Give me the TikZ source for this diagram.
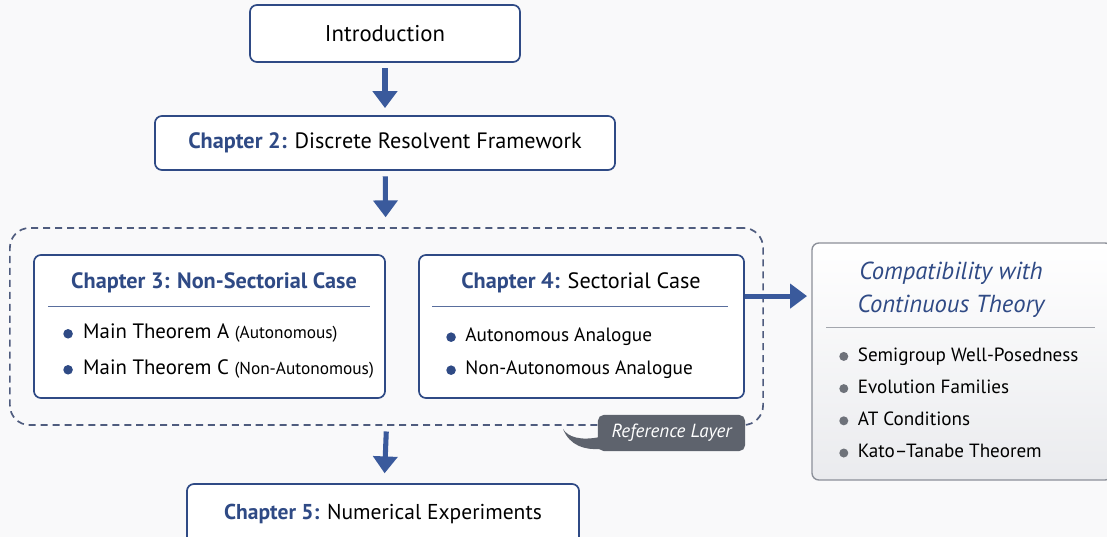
\documentclass[tikz,border=0pt]{standalone}
\usepackage{fontspec}
\setmainfont{PT Sans}
\usetikzlibrary{arrows.meta,positioning}
\definecolor{chblue}{HTML}{2F4A85}
\definecolor{arrblue}{HTML}{3A5A9C}
\definecolor{frameblue}{HTML}{4F5C7E}
\definecolor{compgray}{HTML}{8C9099}
\definecolor{compbot}{HTML}{EAEBEE}
\definecolor{taggray}{HTML}{5E636D}
\definecolor{bggray}{HTML}{F9F9FA}
\definecolor{dotgray}{HTML}{6E727A}
\tikzset{
  chbox/.style={draw=chblue, line width=1.2pt, rounded corners=5pt, fill=white, inner sep=0pt},
  flowarr/.style={draw=arrblue, line width=3.6pt, -{Triangle[width=17pt,length=12pt]}},
  boxrule/.style={draw=chblue!80, line width=0.6pt},
  item/.style={anchor=base west, inner sep=0pt, font=\fontsize{14.8}{17}\selectfont},
}
\newcommand{\chap}[1]{\textcolor{chblue}{\bfseries #1}}
\newcommand{\bluedot}{\tikz[baseline=0pt]\fill[chblue] (0pt,0.5ex) circle (3.4pt);\hspace{0.5em}}
\newcommand{\graydot}{\tikz[baseline=0pt]\fill[dotgray] (0pt,0.5ex) circle (3.2pt);\hspace{0.5em}}
\newcommand{\paren}[1]{{\fontsize{12.3}{14}\selectfont(#1)}}
\begin{document}
\begin{tikzpicture}[x=0.025cm,y=-0.025cm, font=\fontsize{15.8}{19}\selectfont]
		\fill[bggray] (0,0) rectangle (1107,537);
		\useasboundingbox (0,0) rectangle (1107,537);
		% main column
		\node[chbox, minimum width=6.75cm, minimum height=1.425cm, font=\fontsize{16.2}{19}\selectfont] (intro) at (385,33.5) {Introduction};
		\node[chbox, minimum width=11.5cm, minimum height=1.35cm] (ch2) at (385,143) {\chap{Chapter 2:} Discrete Resolvent Framework};
		\node[draw=frameblue, line width=1.2pt, dash pattern=on 5pt off 3.5pt, rounded corners=14pt,
			minimum width=18.825cm, minimum height=4.925cm, inner sep=0pt] (group) at (386.5,326.5) {};
		\node[chbox, minimum width=8.775cm, minimum height=3.575cm] (ch3) at (209.5,326.5) {};
		\node[chbox, minimum width=8.125cm, minimum height=3.575cm] (ch4) at (581.5,326.5) {};
		\node[chbox, minimum width=9.8cm, minimum height=1.5cm, font=\fontsize{15.3}{18}\selectfont] (ch5) at (383,514) {\chap{Chapter 5:} Numerical Experiments};
		% chapter 3
		\node (t3) at (214,283) {\chap{Chapter 3: Non-Sectorial Case}};
		\draw[boxrule] (48,306) -- (370,306);
		\node[item] (a3) at (63,339) {\bluedot Main Theorem A \paren{Autonomous}};
		\node[item] (c3) at (63,375) {\bluedot Main Theorem C \paren{Non-Autonomous}};
		% chapter 4
		\node (t4) at (581,283) {\chap{Chapter 4:} Sectorial Case};
		\draw[boxrule] (432,306) -- (728,306);
		\node[item, font=\fontsize{13.7}{16}\selectfont] (a4) at (446,342) {\bluedot Autonomous Analogue};
		\node[item, font=\fontsize{13.7}{16}\selectfont] (n4) at (446,375) {\bluedot Non-Autonomous Analogue};
		% continuous theory
		\node[draw=compgray, line width=1pt, rounded corners=5pt, top color=white, bottom color=compbot,
			minimum width=7.5cm, minimum height=5.925cm, inner sep=0pt] (compat) at (962,361.5) {};
		\node[align=center, text=chblue, font=\fontsize{17.5}{23.5}\selectfont\itshape] (ct) at (951,290)
			{Compatibility with\\Continuous Theory};
		\draw[draw=compgray!80, line width=0.6pt] (826,327) -- (1095,327);
		\foreach \txt [count=\i] in {Semigroup Well-Posedness, Evolution Families, AT Conditions, Kato--Tanabe Theorem}
			\node[item, font=\fontsize{13.6}{15}\selectfont] (c\i) at (839,329+32.2*\i) {\graydot \txt};
		% reference layer tag
		\node[fill=taggray, rounded corners=4pt, text=white, font=\fontsize{13.5}{15}\selectfont\itshape,
			minimum width=3.675cm, minimum height=0.9cm, inner sep=0pt] (tag) at (671.5,433) {Reference Layer};
		\fill[taggray] (600,437) .. controls (580,441) and (568,437) .. (563,429)
			.. controls (570,446) and (585,450) .. (600,449) -- cycle;
		% arrows
		\draw[flowarr, shorten <=4pt, shorten >=5pt] (intro) -- (ch2);
		\draw[flowarr, shorten <=4pt, shorten >=7pt] (ch2) -- (group);
		\draw[flowarr, shorten <=4pt, shorten >=7pt] (group.south) -- (ch5);
		\coordinate (r4) at ([yshift=0.76cm]ch4.east);
		\draw[flowarr, shorten >=3pt] (r4) -- (r4 -| compat.west);
\end{tikzpicture}
\end{document}
